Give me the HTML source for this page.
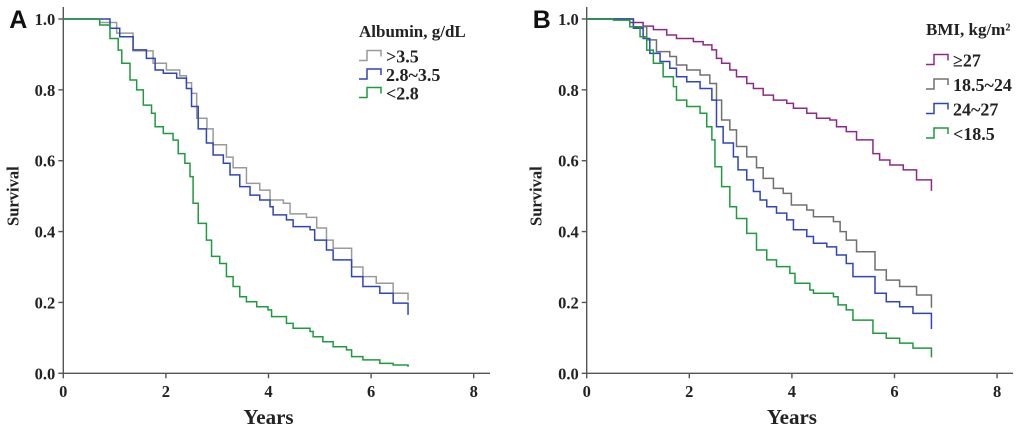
<!DOCTYPE html>
<html><head><meta charset="utf-8"><style>
html,body{margin:0;padding:0;background:#fff;width:1020px;height:431px;overflow:hidden}
svg text{font-family:"Liberation Serif",serif;font-weight:bold;fill:#222}
</style></head><body>
<svg id="c" width="1020" height="431" viewBox="0 0 1020 431"></svg>
<script>
const xTicks=[0,2,4,6,8];
const yTicks=[0,0.2,0.4,0.6,0.8,1.0];
const yTickLabels=["0.0","0.2","0.4","0.6","0.8","1.0"];
const albLabels=[">3.5","2.8~3.5","<2.8"];
const albColors=["#9a9a9a","#2e46b8","#1f9a3e"];
const albGrayT=[0,0.49,0.71,1.04,1.36,1.75,2.01,2.27,2.4,2.5,2.6,2.8,2.92,3.18,3.31,3.57,3.83,4.03,4.29,4.42,4.74,4.94,5.13,5.26,5.62,5.84,6.1,6.43,6.72,6.72];
const albGrayS=[1,1,0.99,0.96,0.91,0.875,0.856,0.84,0.82,0.79,0.72,0.69,0.645,0.61,0.58,0.536,0.517,0.489,0.48,0.45,0.44,0.41,0.376,0.353,0.30,0.273,0.254,0.226,0.226,0.205];
const albBlueT=[0,0.49,0.91,1.1,1.36,1.62,1.79,1.95,2.21,2.4,2.5,2.63,2.79,2.92,3.12,3.25,3.44,3.64,3.83,4.03,4.09,4.35,4.48,4.81,4.9,5.13,5.26,5.62,5.84,6.17,6.43,6.72,6.72];
const albBlueS=[1,1,0.974,0.95,0.913,0.889,0.856,0.847,0.833,0.804,0.753,0.69,0.65,0.616,0.593,0.56,0.527,0.503,0.489,0.47,0.447,0.433,0.414,0.405,0.376,0.348,0.32,0.273,0.245,0.226,0.198,0.193,0.165];
const albGreenT=[0,0.49,0.71,0.91,1.07,1.14,1.3,1.43,1.56,1.72,1.79,1.95,2.14,2.24,2.37,2.47,2.53,2.63,2.79,2.89,3.05,3.18,3.31,3.44,3.57,3.77,3.99,4.06,4.35,4.48,4.81,4.87,5.06,5.26,5.52,5.62,5.84,6.17,6.43,6.72];
const albGreenS=[1,1,0.983,0.945,0.912,0.875,0.828,0.8,0.757,0.734,0.696,0.677,0.658,0.62,0.593,0.555,0.48,0.423,0.376,0.33,0.31,0.273,0.245,0.216,0.202,0.188,0.179,0.16,0.141,0.127,0.118,0.103,0.089,0.075,0.066,0.047,0.038,0.028,0.0235,0.018];
const bmiLabels=["\u226527","18.5~24","24~27","<18.5"];
const bmiColors=["#8b2a86","#707070","#2e46b8","#1f9a3e"];
const bmiPurpleT=[0,0.52,0.84,1.1,1.3,1.56,1.75,2.08,2.27,2.44,2.53,2.63,2.79,2.92,3.12,3.25,3.44,3.64,3.9,4.03,4.29,4.48,4.74,4.87,5.06,5.26,5.58,5.71,5.91,6.17,6.43,6.72,6.72];
const bmiPurpleS=[1,1,0.99,0.98,0.97,0.955,0.945,0.936,0.927,0.913,0.889,0.875,0.856,0.837,0.818,0.804,0.785,0.771,0.762,0.748,0.734,0.72,0.715,0.696,0.682,0.659,0.62,0.602,0.588,0.574,0.546,0.546,0.515];
const bmiGrayT=[0,0.52,0.91,1.17,1.36,1.62,1.75,1.95,2.21,2.4,2.53,2.63,2.79,2.92,3.12,3.31,3.44,3.64,3.83,3.99,4.29,4.42,4.81,4.94,5.06,5.26,5.62,5.84,6.1,6.43,6.72,6.72];
const bmiGrayS=[1,1,0.978,0.941,0.908,0.894,0.87,0.856,0.842,0.818,0.771,0.715,0.687,0.64,0.611,0.58,0.55,0.522,0.508,0.475,0.461,0.442,0.428,0.4,0.376,0.343,0.292,0.263,0.245,0.221,0.216,0.185];
const bmiBlueT=[0,0.52,0.91,1.1,1.23,1.43,1.62,1.75,1.95,2.21,2.44,2.53,2.66,2.86,2.95,3.12,3.25,3.38,3.51,3.7,3.9,4.03,4.29,4.42,4.68,4.87,5.06,5.19,5.62,5.84,6.1,6.36,6.72,6.72];
const bmiBlueS=[1,1,0.974,0.945,0.903,0.88,0.861,0.837,0.823,0.804,0.771,0.696,0.65,0.611,0.574,0.546,0.513,0.489,0.47,0.452,0.433,0.405,0.386,0.367,0.357,0.334,0.31,0.273,0.226,0.202,0.188,0.169,0.15,0.125];
const bmiGreenT=[0,0.52,0.84,1.04,1.17,1.3,1.49,1.69,1.75,1.95,2.21,2.34,2.44,2.5,2.63,2.79,2.92,3.12,3.31,3.51,3.7,3.96,4.06,4.35,4.42,4.81,4.9,5.06,5.19,5.58,5.84,6.1,6.36,6.72,6.72];
const bmiGreenS=[1,0.997,0.978,0.95,0.912,0.875,0.837,0.809,0.771,0.753,0.734,0.696,0.659,0.583,0.527,0.47,0.437,0.395,0.348,0.32,0.301,0.282,0.254,0.235,0.226,0.216,0.193,0.179,0.15,0.113,0.099,0.085,0.071,0.061,0.045];

const svg=document.getElementById('c');
const NS="http://www.w3.org/2000/svg";
function mk(tag,attrs,parent){const e=document.createElementNS(NS,tag);for(const k in attrs)e.setAttribute(k,attrs[k]);(parent||svg).appendChild(e);return e;}

function panel(p){
  const g=mk('g',{});
  
  
  const X=v=>p.x0+v*p.xs, Y=v=>373.3-v*354.3;
  const ax=mk('path',{d:`M${p.x0},7 V${Y(0)} H${p.xEnd}`,stroke:'#555',fill:'none','stroke-width':1.4},g);
  
  
  xTicks.forEach(t=>{
    mk('line',{x1:X(t),x2:X(t),y1:Y(0),y2:Y(0)+5,stroke:'#555','stroke-width':1.4},g);
    const tx=mk('text',{x:X(t),y:397,'text-anchor':'middle','font-size':16.5},g);
    tx.textContent=t;
    
    
  });
  yTicks.forEach((t,i)=>{
    mk('line',{x1:p.x0-5,x2:p.x0,y1:Y(t),y2:Y(t),stroke:'#555','stroke-width':1.4},g);
    const tx=mk('text',{x:p.x0-8,y:Y(t)+6,'text-anchor':'end','font-size':16.5},g);
    tx.textContent=yTickLabels[i];
    
    
  });
  const yt=mk('text',{x:0,y:0,'text-anchor':'middle','font-size':16.5,transform:`translate(${p.x0-45},${Y(0.5)}) rotate(-90)`},g);
  yt.textContent='Survival';
  
  
  const xt=mk('text',{x:X(4),y:424,'text-anchor':'middle','font-size':21},g);
  xt.textContent='Years';
  
  
  const pl=mk('text',{x:p.x0-54,y:28,'font-size':25,style:'font-family:"Liberation Sans",sans-serif;font-weight:bold;fill:#111'},g);
  pl.textContent=p.letter;
  
  
  p.series.forEach((s,i)=>{
    const T=s[0],S=s[1];
    let d=`M${X(T[0])},${Y(S[0])}`;
    for(let k=1;k<T.length;k++){d+=` H${X(T[k])} V${Y(S[k])}`;}
    const path=mk('path',{d:d,stroke:p.colors[i],fill:'none','stroke-width':1.5},g);
    
    
  });
  const lt=mk('text',{x:p.lx,y:p.ly,'font-size':p.tfs},g);
  lt.textContent=p.title;
  
  
  p.labels.forEach((l,i)=>{
    const yy=p.ly+p.ld*(i+1);
    const sym=mk('path',{d:`M${p.lx},${yy+5} H${p.lx+8} V${yy-5} H${p.lx+22} V${yy+1}`,stroke:p.colors[i],fill:'none','stroke-width':1.5},g);
    
    
    const t=mk('text',{x:p.lx+27,y:yy+7,'font-size':p.efs},g);
    t.textContent=l;
    
    
  });
}
panel({name:'panel-a-albumin',letter:'A',x0:63.3,xs:51.3,xEnd:490,title:'Albumin, g/dL',labels:albLabels,colors:albColors,lx:359,ly:37,ld:18.5,tfs:17,efs:18,
  series:[[albGrayT,albGrayS],[albBlueT,albBlueS],[albGreenT,albGreenS]]});
panel({name:'panel-b-bmi',letter:'B',x0:586.7,xs:51.3,xEnd:1013,title:'BMI, kg/m\u00b2',labels:bmiLabels,colors:bmiColors,lx:926,ly:35,ld:24.5,tfs:17,efs:18,
  series:[[bmiPurpleT,bmiPurpleS],[bmiGrayT,bmiGrayS],[bmiBlueT,bmiBlueS],[bmiGreenT,bmiGreenS]]});
</script>
</body></html>
